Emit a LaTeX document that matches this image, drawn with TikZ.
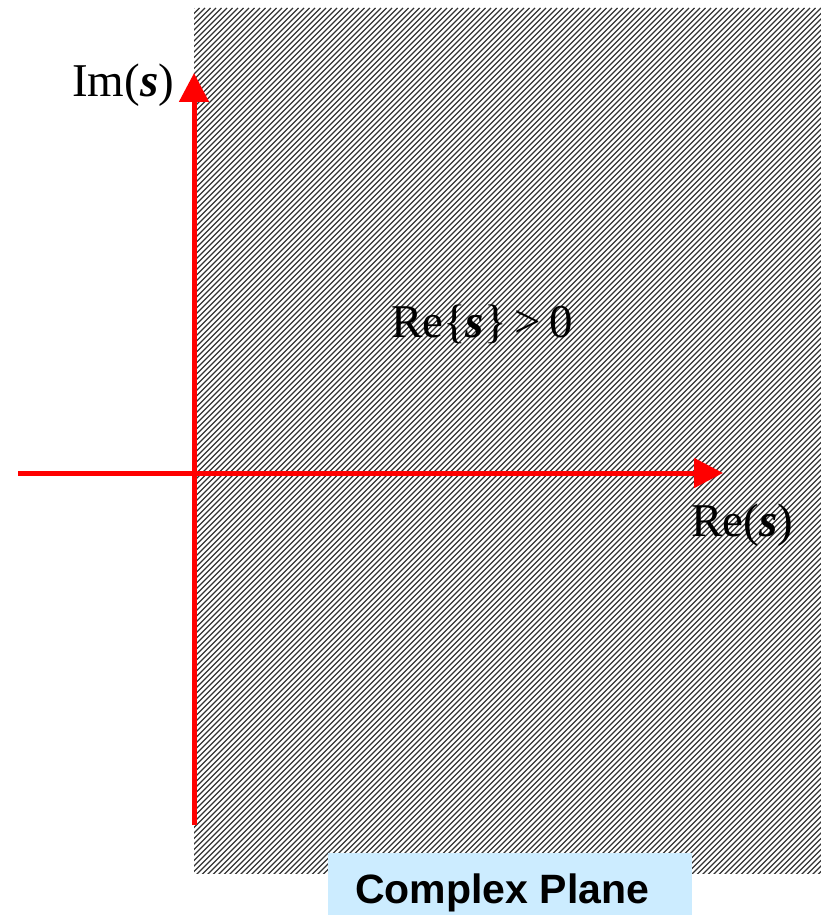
\documentclass[tikz,border=0pt]{standalone}
\usepackage{fontspec}
\setmainfont{Liberation Serif}
\newfontfamily\arialfont{Liberation Sans}
\usetikzlibrary{arrows.meta}
\definecolor{axisred}{RGB}{255,0,0}
\definecolor{boxblue}{RGB}{204,236,255}
\tikzset{
  axisline/.style={draw=axisred, line width=5pt, -{Triangle[length=29pt,width=29pt]}},
  mathlabel/.style={anchor=base west, inner sep=0pt, font=\fontsize{47}{50}\selectfont},
  titlebox/.style={fill=boxblue, draw=none},
  hatchline/.style={draw=black!80, line width=1.35pt}
}
\newcommand{\bis}{{\bfseries\itshape s}}
\begin{document}
\begin{tikzpicture}[x=1pt,y=-1pt]
\useasboundingbox (0,0) rectangle (821,915);
% hatched half plane
\begin{scope}
  \clip (194,8) rectangle (821,873);
  \foreach \k in {0,...,280} {
    \draw[hatchline] ({194+5.5*\k},8) -- ({194+5.5*\k-870},878);
  }
\end{scope}
% title box
\node[titlebox, minimum width=364pt, minimum height=62pt, anchor=north west, inner sep=0pt] (boxnode) at (328,853) {};
\node[anchor=base west, inner sep=0pt, font=\arialfont\bfseries\fontsize{41}{44}\selectfont] (title) at (355,903) {Complex Plane};
% axes
\coordinate (vstart) at (194,825);
\coordinate (vend) at (194,73);
\coordinate (hstart) at (18,473);
\coordinate (hend) at (723,473);
\draw[axisline] (vstart) -- (vend);
\draw[axisline] (hstart) -- (hend);
% labels
\node[mathlabel] (imlabel) at (72,97) {Im(\bis)};
\node[mathlabel] (relabel) at (691,536) {Re(\bis)};
\node[mathlabel] (region) at (391,337) {Re\{\bis\}\hspace{8pt}>\hspace{8pt}0};
\end{tikzpicture}
\end{document}
